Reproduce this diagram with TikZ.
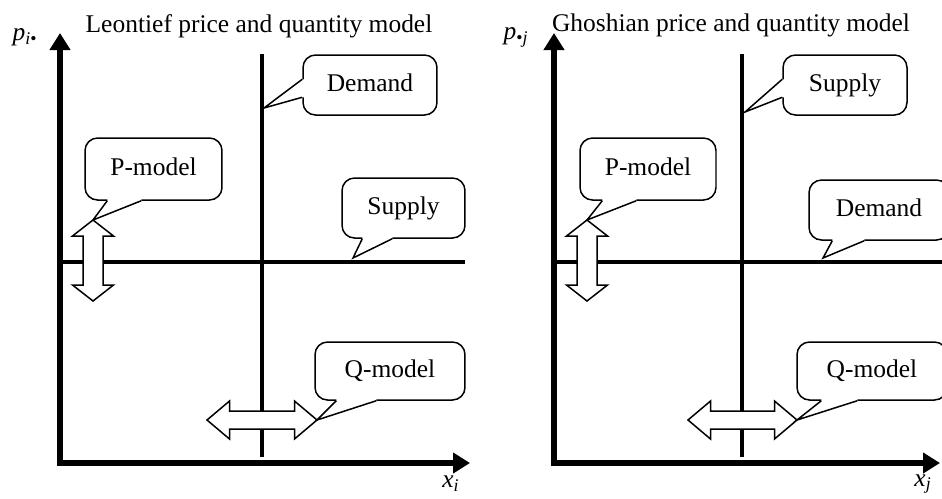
\documentclass[tikz,border=0pt]{standalone}
\usepackage{fontspec}
\setmainfont{Liberation Serif}
\usetikzlibrary{arrows.meta,calc}

% speech-bubble tail: corner, two base offsets, tip, inward shift
\newcommand{\tail}[5]{%
  \fill[white] ($#1+#2$) -- (#4) -- ($#1+#3$) -- ($#1+#3+#5$) -- ($#1+#2+#5$) -- cycle;
  \draw[pointer] ($#1+#2$) -- (#4) -- ($#1+#3$);}
% hollow double arrows, drawn from one tip
\newcommand{\vdbl}[1]{\draw[dbl] (#1) -- ++(20.5,16) -- ++(-10.5,0) -- ++(0,49) -- ++(10.5,0)
  -- ++(-20.5,16) -- ++(-20.5,-16) -- ++(10.5,0) -- ++(0,-49) -- ++(-10.5,0) -- cycle;}
\newcommand{\hdbl}[2]{\draw[dbl] (#1) -- ++(-22.5,-19) -- ++(0,10) -- ++(-#2,0) -- ++(0,-10)
  -- ++(-22.5,19) -- ++(22.5,19) -- ++(0,-10) -- ++(#2,0) -- ++(0,10) -- cycle;}

\begin{document}
\begin{tikzpicture}[x=0.02cm, y=-0.02cm, font=\fontsize{14.5}{17}\selectfont,
    >={Triangle[length=0.34cm,width=0.4cm]},
    axis/.style={line width=0.11cm, <->},
    sched/.style={line width=0.09cm},
    callbox/.style={draw, fill=white, line width=0.03cm, rounded corners=0.25cm,
      text depth=0.25em, inner sep=0pt},
    pointer/.style={line width=0.03cm},
    dbl/.style={draw, fill=white, line width=0.03cm, line join=miter}]
  \clip (0,0) rectangle (942,498);

  % Leontief panel
  \node[anchor=base] (titleL) at (259,32) {Leontief price and quantity model};
  \draw[axis] (60,33) -- (60,463) -- (470,463);
  \node (pL) at (25,37) {\textit{p}\textsubscript{\textit{i}•}};
  \node (xL) at (451,484) {\textit{x}\textsubscript{\textit{i}}};
  \draw[sched] (262,54) -- (262,457);
  \draw[sched] (60,262) -- (465,262);
  \coordinate (ptipL) at (93,220);
  \coordinate (qtipL) at (317,420);
  \coordinate (dtipL) at (264,108);
  \coordinate (stipL) at (353,258);
  \vdbl{ptipL}
  \hdbl{qtipL}{65}
  \node[callbox, minimum width=2.68cm, minimum height=1.2cm] (demL) at (370,85) {Demand};
  \node[callbox, minimum width=2.74cm, minimum height=1.24cm] (pmodL) at (153.5,169) {P-model};
  \node[callbox, minimum width=2.46cm, minimum height=1.2cm] (supL) at (403.5,208) {Supply};
  \node[callbox, minimum width=3cm, minimum height=1.16cm] (qmodL) at (390,371) {Q-model};
  \tail{(demL.north west)}{(0,25)}{(0,43)}{dtipL}{(3,0)}
  \tail{(pmodL.south west)}{(23,0)}{(57,0)}{ptipL}{(0,-3)}
  \tail{(supL.south west)}{(21,0)}{(51,0)}{stipL}{(0,-3)}
  \tail{(qmodL.south west)}{(22,0)}{(62,0)}{qtipL}{(0,-3)}

  % Ghoshian panel
  \node[anchor=base] (titleR) at (731,31) {Ghoshian price and quantity model};
  \draw[axis] (554,33) -- (554,463) -- (940,463);
  \node (pR) at (516,37) {\textit{p}\textsubscript{•\textit{j}}};
  \node (xR) at (923,484) {\textit{x}\textsubscript{\textit{j}}};
  \draw[sched] (742,54) -- (742,457);
  \draw[sched] (554,262) -- (942,262);
  \coordinate (ptipR) at (587,220);
  \coordinate (qtipR) at (797,420);
  \coordinate (stipR) at (745,112);
  \coordinate (dtipR) at (823,258);
  \vdbl{ptipR}
  \hdbl{qtipR}{64}
  \node[callbox, minimum width=2.48cm, minimum height=1.2cm] (supR) at (845,85) {Supply};
  \node[callbox, minimum width=2.72cm, minimum height=1.24cm] (pmodR) at (648,169) {P-model};
  \node[callbox, minimum width=2.8cm, minimum height=1.2cm] (demR) at (879,210) {Demand};
  \node[callbox, minimum width=3cm, minimum height=1.16cm] (qmodR) at (872,371) {Q-model};
  \tail{(supR.north west)}{(0,25)}{(0,43)}{stipR}{(3,0)}
  \tail{(pmodR.south west)}{(23,0)}{(57,0)}{ptipR}{(0,-3)}
  \tail{(demR.south west)}{(24,0)}{(56,0)}{dtipR}{(0,-3)}
  \tail{(qmodR.south west)}{(25,0)}{(61,0)}{qtipR}{(0,-3)}
\end{tikzpicture}
\end{document}
